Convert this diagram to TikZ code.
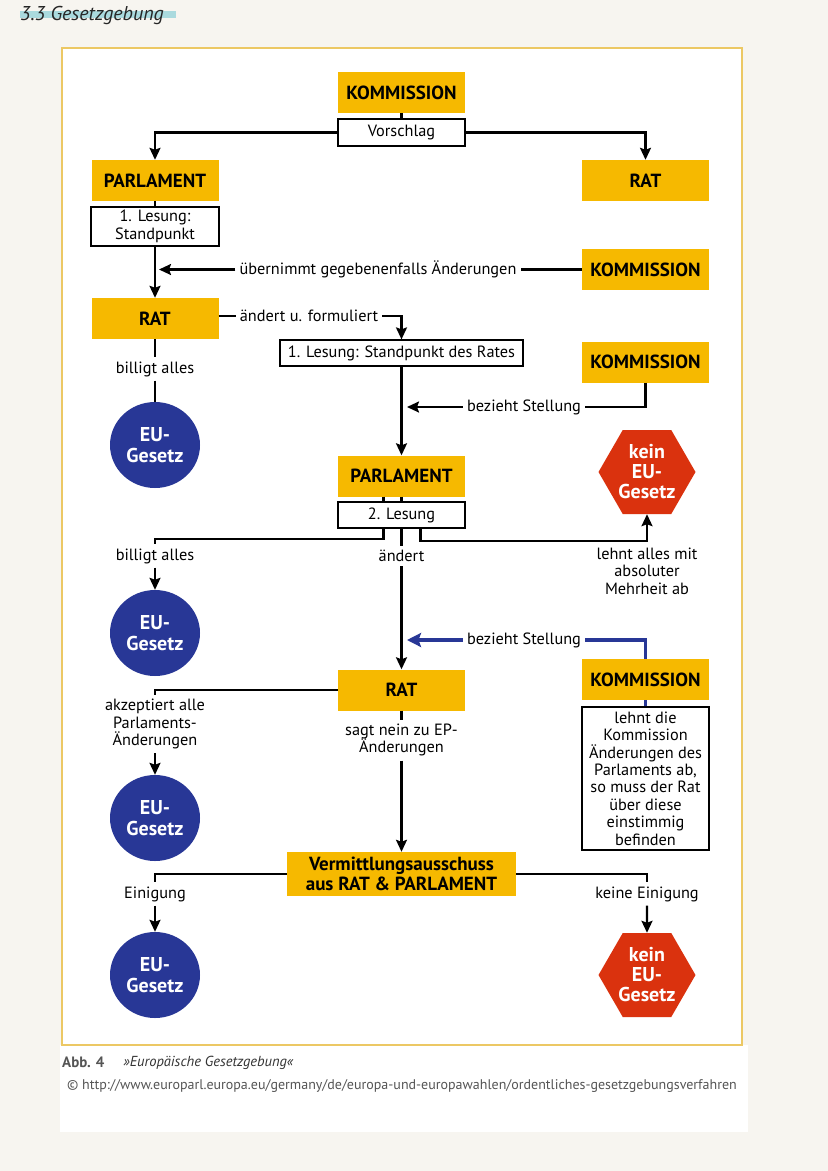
\documentclass[tikz,border=0pt]{standalone}
\usepackage{fontspec}
\setmainfont{PT Sans}
\usetikzlibrary{shapes.geometric,arrows.meta,calc}
\definecolor{pagebg}{RGB}{247,245,240}
\definecolor{eugold}{RGB}{246,185,0}
\definecolor{eublue}{RGB}{40,55,150}
\definecolor{eured}{RGB}{218,50,14}
\definecolor{framec}{RGB}{236,200,100}
\definecolor{capgray}{RGB}{85,85,85}
\definecolor{hl}{RGB}{120,200,210}
\begin{document}
\begin{tikzpicture}[x=1pt,y=-1pt,
 ybox/.style={fill=eugold, minimum width=127pt, minimum height=41pt, inner sep=0pt, align=center, font=\fontsize{19}{20}\selectfont\bfseries},
 wbox/.style={draw, fill=white, line width=1.2pt, inner sep=2pt, align=center, font=\fontsize{16.3}{17.4}\selectfont},
 eu/.style={ellipse, fill=eublue, minimum width=90pt, minimum height=86pt, inner sep=0pt, text=white, align=center, font=\fontsize{20}{21}\selectfont\bfseries},
 kein/.style={regular polygon, regular polygon sides=6, minimum size=97pt, inner sep=0pt, fill=eured, text=white, align=center, font=\fontsize{20}{20}\selectfont\bfseries},
 lbl/.style={fill=white, inner sep=4pt, align=center, font=\fontsize{16.3}{17.6}\selectfont},
 conn/.style={line width=2.2pt},
 arr/.style={conn, -{Stealth[length=12pt,width=11pt,inset=2pt]}},
 bconn/.style={line width=3.5pt, eublue},
 barr/.style={bconn, -{Stealth[length=14pt,width=14pt,inset=2.5pt]}},
]
\useasboundingbox (0,0) rectangle (828,1171);
\fill[pagebg] (0,0) rectangle (828,1171);
% header
\fill[hl, opacity=0.6] (20,11) rectangle (176,18);
\node[anchor=base west, inner sep=0pt, font=\fontsize{20}{22}\selectfont\itshape, text=black!85] (hdr) at (20,20) {3.3 Gesetzgebung};
% caption panel and frame
\fill[white] (60,1045) rectangle (748,1132);
\draw[framec, line width=1.5pt, fill=white] (62,48) rectangle (742,1045);

% nodes
\node[ybox] (kom1) at (401.5,92.5) {KOMMISSION};
\node[wbox, minimum width=127pt, minimum height=27pt] (vor) at (401.5,132.5) {Vorschlag};
\node[ybox] (parl1) at (155,180.5) {PARLAMENT};
\node[ybox] (rat1) at (645.5,180.5) {RAT};
\node[wbox, minimum width=128pt, minimum height=39pt] (les1) at (155,226.5) {1. Lesung:\\Standpunkt};
\node[ybox] (kom2) at (645.5,269.5) {KOMMISSION};
\node[lbl] (luebern) at (378,269.5) {übernimmt gegebenenfalls Änderungen};
\coordinate (cuebern) at (159,269.5);
\node[ybox] (rat2) at (155,318.5) {RAT};
\node[lbl] (laend) at (309,316) {ändert u. formuliert};
\node[wbox, minimum width=243pt, minimum height=26pt] (les1r) at (401.5,353) {1. Lesung: Standpunkt des Rates};
\node[lbl] (lbill1) at (155,369) {billigt alles};
\node[eu] (eu1) at (155,445) {EU-\\Gesetz};
\node[ybox] (kom3) at (645.5,362) {KOMMISSION};
\node[lbl] (lbez1) at (524,407) {bezieht Stellung};
\coordinate (cbez1) at (407,407);
\node[ybox] (parl2) at (401.5,476) {PARLAMENT};
\node[wbox, minimum width=127pt, minimum height=26pt] (les2) at (401.5,515) {2. Lesung};
\node[kein] (kein1) at (647,472) {kein\\EU-\\Gesetz};
\node[lbl] (lbill2) at (155,556) {billigt alles};
\node[eu] (eu2) at (155,633) {EU-\\Gesetz};
\node[lbl] (laend2) at (401.5,556) {ändert};
\node[lbl] (llehnt) at (647,571) {lehnt alles mit\\absoluter\\Mehrheit ab};
\node[ybox] (rat3) at (401.5,690) {RAT};
\node[ybox] (kom4) at (645.5,679.5) {KOMMISSION};
\node[lbl] (lbez2) at (524,640) {bezieht Stellung};
\coordinate (cbez2) at (407,640);
\node[wbox, minimum width=127pt, minimum height=143pt] (lehnt) at (645.5,778.5) {lehnt die\\Kommission\\Änderungen des\\Parlaments ab,\\so muss der Rat\\über diese\\einstimmig\\befinden};
\node[lbl] (lakz) at (155,724) {akzeptiert alle\\Parlaments-\\Änderungen};
\node[eu] (eu3) at (155,818) {EU-\\Gesetz};
\node[lbl] (lnein) at (401.5,740) {sagt nein zu EP-\\Änderungen};
\node[ybox, minimum width=229pt, minimum height=44pt] (verm) at (401.5,874) {Vermittlungsausschuss\\aus RAT \& PARLAMENT};
\node[lbl] (lein) at (155,894) {Einigung};
\node[eu] (eu4) at (155,975) {EU-\\Gesetz};
\node[lbl] (lkeine) at (647,894) {keine Einigung};
\node[kein] (kein2) at (647,975) {kein\\EU-\\Gesetz};

% connectors
\draw[conn] (kom1.south) -- (vor.north);
\draw[arr] (vor.west) -| (parl1.north);
\draw[arr] (vor.east) -| (rat1.north);
\draw[conn] (parl1.south) -- (les1.north);
\draw[arr] (les1.south) -- (rat2.north);
\draw[conn] (kom2.west) -- (luebern.east);
\draw[arr] (luebern.west) -- (cuebern);
\draw[conn] (rat2.east |- laend.west) -- (laend.west);
\draw[arr] (laend.east) -| (les1r.north);
\draw[conn] (rat2.south) -- (lbill1.north);
\draw[conn] (lbill1.south) -- (eu1.north);
\draw[conn] (kom3.south) |- (lbez1.east);
\draw[arr] (lbez1.west) -- (cbez1);
\draw[arr] (les1r.south) -- (parl2.north);
\draw[conn] ([xshift=-18pt]parl2.south) -- ([xshift=-18pt]les2.north);
\draw[conn] (parl2.south) -- (les2.north);
\draw[arr] ([xshift=19pt]les2.south) -- ++(0,12) -| (kein1.south);
\draw[conn] ([xshift=-18pt]les2.south) -- ++(0,10) -| (lbill2.north);
\draw[arr] (lbill2.south) -- (eu2.north);
\draw[conn] (les2.south) -- (laend2.north);
\draw[arr] (laend2.south) -- (rat3.north);
\draw[bconn] (kom4.north) |- (lbez2.east);
\draw[barr] (lbez2.west) -- (cbez2);
\draw[bconn] (kom4.south) -- (lehnt.north);
\draw[conn] (rat3.west) -| (lakz.north);
\draw[arr] (lakz.south) -- (eu3.north);
\draw[conn] (rat3.south) -- (lnein.north);
\draw[arr] (lnein.south) -- (verm.north);
\draw[conn] (verm.west) -| (lein.north);
\draw[arr] (lein.south) -- (eu4.north);
\draw[conn] (verm.east) -| (lkeine.north);
\draw[arr] (lkeine.south) -- (kein2.north);

% caption
\node[anchor=base west, inner sep=0pt, text=capgray, font=\fontsize{15}{16}\selectfont\bfseries] (abb) at (62,1067) {Abb. 4};
\node[anchor=base west, inner sep=0pt, text=black!80, font=\fontsize{14.5}{16}\selectfont\itshape] (ttl) at (123,1066) {»Europäische Gesetzgebung«};
\node[anchor=base west, inner sep=0pt, text=capgray, font=\fontsize{14}{16}\selectfont] (url) at (67,1089) {© http://www.europarl.europa.eu/germany/de/europa-und-europawahlen/ordentliches-gesetzgebungsverfahren};
\end{tikzpicture}
\end{document}
